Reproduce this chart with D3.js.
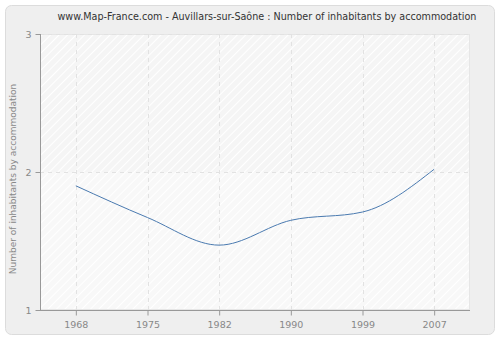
<!DOCTYPE html>
<html><head><meta charset="utf-8">
<script src="https://cdn.jsdelivr.net/npm/d3@7"></script>
<style>body{margin:0;background:#fff}svg{display:block}</style>
</head><body>
<script>
const years = ["1968","1975","1982","1990","1999","2007"];
const values = [1.90, 1.67, 1.47, 1.65, 1.71, 2.02];
const yTicks = [1, 2, 3];
const title = "www.Map-France.com - Auvillars-sur-Saône : Number of inhabitants by accommodation";
const yLabel = "Number of inhabitants by accommodation";

const W = 500, H = 340;
const m = {l: 40, r: 30, t: 34, b: 30};
const svg = d3.select("body").append("svg").attr("width", W).attr("height", H);
const defs = svg.append("defs");
function hatch(id, bg, line){
  const p = defs.append("pattern").attr("id", id).attr("patternUnits","userSpaceOnUse")
    .attr("width", 6).attr("height", 6).attr("patternTransform","rotate(45)");
  p.append("rect").attr("width",6).attr("height",6).attr("fill",bg);
  p.append("line").attr("x1",0).attr("y1",0).attr("x2",0).attr("y2",6).attr("stroke",line).attr("stroke-width",2);
}
hatch("hA", "#f5f5f5", "#ffffff");
hatch("hB", "#f8f8f8", "#ffffff");

svg.append("rect").attr("x",5.5).attr("y",5.5).attr("width",489).attr("height",329)
  .attr("rx",6).attr("fill","#efefef").attr("stroke","#dcdcdc");

const x = d3.scalePoint().domain(years).range([m.l, W - m.r]).padding(0.5);
const y = d3.scaleLinear().domain([1,3]).range([H - m.b, m.t]);

svg.append("rect").attr("x", m.l).attr("y", y(3)).attr("width", W-m.r-m.l).attr("height", y(2)-y(3)).attr("fill","url(#hA)");
svg.append("rect").attr("x", m.l).attr("y", y(2)).attr("width", W-m.r-m.l).attr("height", y(1)-y(2)).attr("fill","url(#hB)");
svg.append("rect").attr("x", m.l+0.5).attr("y", y(3)+0.5).attr("width", W-m.r-m.l-1).attr("height", y(1)-y(3)-1)
  .attr("fill","none").attr("stroke","#e6e6e6");

const g = svg.append("g");
g.selectAll("line.vg").data(years).join("line").attr("class","vg")
  .attr("x1", d=>Math.round(x(d))+0.5).attr("x2", d=>Math.round(x(d))+0.5)
  .attr("y1", y(3)).attr("y2", y(1))
  .attr("stroke","#e2e2e2").attr("stroke-dasharray","4,4");
g.selectAll("line.hg").data(yTicks.filter(t=>t>1)).join("line").attr("class","hg")
  .attr("x1", m.l).attr("x2", W-m.r)
  .attr("y1", d=>Math.round(y(d))+0.5).attr("y2", d=>Math.round(y(d))+0.5)
  .attr("stroke","#e2e2e2").attr("stroke-dasharray","4,4");

const font = "DejaVu Sans, Verdana, sans-serif";
const xAxis = svg.append("g").attr("transform",`translate(0,${y(1)+0.5})`)
  .call(d3.axisBottom(x).tickSize(5).tickPadding(6));
const yAxis = svg.append("g").attr("transform",`translate(${m.l+0.5},0)`)
  .call(d3.axisLeft(y).tickValues(yTicks).tickFormat(d3.format("d")).tickSize(5).tickPadding(4));
[xAxis, yAxis].forEach(a=>{
  a.select(".domain").attr("stroke","#999");
  a.selectAll(".tick line").attr("stroke","#999");
  a.selectAll("text").attr("fill","#888").style("font-family",font).style("font-size","9.5px");
});
xAxis.select(".domain").attr("d", `M${m.l},0H${W-m.r}`);
yAxis.select(".domain").attr("d", `M0,${y(1)}V${y(3)}`);

const line = d3.line().x((d,i)=>x(years[i])).y(d=>y(d)).curve(d3.curveMonotoneX);
svg.append("path").datum(values).attr("d", line).attr("fill","none")
  .attr("stroke","#4a7ab0").attr("stroke-width",1);

svg.append("text").attr("x", 267).attr("y", 20).attr("text-anchor","middle")
  .attr("fill","#333").style("font-family",font).style("font-size","9.6px").text(title);
svg.append("text").attr("transform",`translate(16,179) rotate(-90)`).attr("text-anchor","middle")
  .attr("fill","#888").style("font-family",font).style("font-size","9px").text(yLabel);
</script>
</body></html>
